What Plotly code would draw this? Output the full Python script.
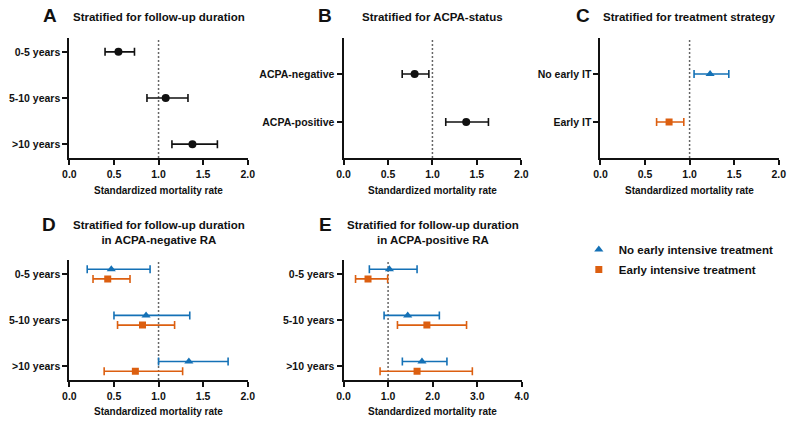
import numpy as np
import plotly.graph_objects as go

# ---------------- data ----------------
followup_labels = ["0-5 years", "5-10 years", ">10 years"]
acpa_labels = ["ACPA-negative", "ACPA-positive"]
treat_labels = ["No early IT", "Early IT"]

# Panel A: stratified for follow-up duration
a_smr = [0.55, 1.08, 1.38]
a_lo = [0.40, 0.87, 1.15]
a_hi = [0.73, 1.33, 1.66]

# Panel B: stratified for ACPA status
b_smr = [0.80, 1.38]
b_lo = [0.66, 1.15]
b_hi = [0.96, 1.63]

# Panel C: stratified for treatment strategy (No early IT, Early IT)
c_smr = [1.23, 0.77]
c_lo = [1.05, 0.63]
c_hi = [1.44, 0.935]

# Panel D: follow-up duration in ACPA-negative RA
d_noit_smr = [0.47, 0.86, 1.34]
d_noit_lo = [0.20, 0.50, 1.00]
d_noit_hi = [0.905, 1.35, 1.78]
d_it_smr = [0.43, 0.82, 0.74]
d_it_lo = [0.265, 0.54, 0.39]
d_it_hi = [0.68, 1.18, 1.27]

# Panel E: follow-up duration in ACPA-positive RA
e_noit_smr = [1.03, 1.44, 1.76]
e_noit_lo = [0.58, 0.91, 1.32]
e_noit_hi = [1.65, 2.15, 2.32]
e_it_smr = [0.55, 1.87, 1.65]
e_it_lo = [0.27, 1.21, 0.82]
e_it_hi = [0.99, 2.76, 2.89]

legend_names = ["No early intensive treatment", "Early intensive treatment"]

# ---------------- style ----------------
W, H = 800, 424
BLUE = "#1471b6"
ORANGE = "#dc5f10"
BLACK = "#111111"
FONT = "Liberation Sans, Arial, sans-serif"

def px_x(p):
    return p / W

def px_y(p):
    return 1 - p / H

fig = go.Figure()

def err(smr, lo, hi):
    s, l, h = np.array(smr), np.array(lo), np.array(hi)
    return (h - s).tolist(), (s - l).tolist()

def add_series(xaxis, yaxis, smr, lo, hi, ypos, color, symbol, size):
    plus, minus = err(smr, lo, hi)
    fig.add_trace(go.Scatter(
        x=smr, y=ypos, mode="markers", xaxis=xaxis, yaxis=yaxis,
        marker=dict(color=color, symbol=symbol, size=size, line=dict(width=0)),
        error_x=dict(type="data", symmetric=False, array=plus, arrayminus=minus,
                     color=color, thickness=1.6, width=4),
        showlegend=False, hoverinfo="x+y"))

idx3 = np.arange(3)
idx2 = np.arange(2)
off_blue, off_orange = -0.10, 0.11

# A
add_series("x", "y", a_smr, a_lo, a_hi, idx3, BLACK, "circle", 8)
# B
add_series("x2", "y2", b_smr, b_lo, b_hi, idx2, BLACK, "circle", 8)
# C
add_series("x3", "y3", [c_smr[0]], [c_lo[0]], [c_hi[0]], [0], BLUE, "triangle-up", 8)
add_series("x3", "y3", [c_smr[1]], [c_lo[1]], [c_hi[1]], [1], ORANGE, "square", 7)
# D
add_series("x4", "y4", d_noit_smr, d_noit_lo, d_noit_hi, idx3 + off_blue, BLUE, "triangle-up", 8)
add_series("x4", "y4", d_it_smr, d_it_lo, d_it_hi, idx3 + off_orange, ORANGE, "square", 7)
# E
add_series("x5", "y5", e_noit_smr, e_noit_lo, e_noit_hi, idx3 + off_blue, BLUE, "triangle-up", 8)
add_series("x5", "y5", e_it_smr, e_it_lo, e_it_hi, idx3 + off_orange, ORANGE, "square", 7)

# legend-only traces
fig.add_trace(go.Scatter(x=[None], y=[None], mode="markers", name=legend_names[0],
                         legendgroup="g1",
                         marker=dict(color=BLUE, symbol="triangle-up", size=8), showlegend=True))
fig.add_trace(go.Scatter(x=[None], y=[None], mode="markers", name=legend_names[1],
                         legendgroup="g2",
                         marker=dict(color=ORANGE, symbol="square", size=7), showlegend=True))

# ---------------- axes ----------------
tickfont = dict(family=FONT, size=10.5, color=BLACK, weight="bold")

def xaxis_cfg(x0, x1, y_anchor, xmax, dtick):
    return dict(domain=[px_x(x0), px_x(x1)], anchor=y_anchor, range=[0, xmax],
                tickvals=list(np.arange(0, xmax + 1e-9, dtick)), tickformat=".1f",
                showline=True, linewidth=2, linecolor=BLACK, ticks="outside",
                ticklen=5, tickwidth=2, tickcolor=BLACK, showgrid=False, zeroline=False,
                tickfont=tickfont, fixedrange=True)

def yaxis_cfg(y0, y1, x_anchor, labels, rng):
    return dict(domain=[px_y(y1), px_y(y0)], anchor=x_anchor, range=rng,
                tickvals=list(range(len(labels))), ticktext=labels,
                showline=True, linewidth=2, linecolor=BLACK, ticks="outside",
                ticklen=5, tickwidth=2, tickcolor=BLACK, showgrid=False, zeroline=False,
                tickfont=tickfont, fixedrange=True)

top_y0, top_y1 = 38, 158
bot_y0, bot_y1 = 260, 380
panels = {
    "A": (63.5, 245, top_y0, top_y1),
    "B": (342.5, 523.5, top_y0, top_y1),
    "C": (604, 785.5, top_y0, top_y1),
    "D": (63.5, 245, bot_y0, bot_y1),
    "E": (342.5, 524, bot_y0, bot_y1),
}

fig.update_layout(
    xaxis=xaxis_cfg(63.5, 245, "y", 2, 0.5),
    yaxis=yaxis_cfg(top_y0, top_y1, "x", followup_labels, [2.3, -0.3]),
    xaxis2=xaxis_cfg(342.5, 523.5, "y2", 2, 0.5),
    yaxis2=yaxis_cfg(top_y0, top_y1, "x2", acpa_labels, [1.75, -0.75]),
    xaxis3=xaxis_cfg(604, 785.5, "y3", 2, 0.5),
    yaxis3=yaxis_cfg(top_y0, top_y1, "x3", treat_labels, [1.75, -0.75]),
    xaxis4=xaxis_cfg(63.5, 245, "y4", 2, 0.5),
    yaxis4=yaxis_cfg(bot_y0, bot_y1, "x4", followup_labels, [2.3, -0.3]),
    xaxis5=xaxis_cfg(342.5, 524, "y5", 4, 1),
    yaxis5=yaxis_cfg(bot_y0, bot_y1, "x5", followup_labels, [2.3, -0.3]),
)

# reference lines at SMR = 1
shapes = []
for xr, yr in [("x", "y"), ("x2", "y2"), ("x3", "y3"), ("x4", "y4"), ("x5", "y5")]:
    shapes.append(dict(type="line", xref=xr, yref=yr + " domain", x0=1, x1=1, y0=0, y1=1,
                       line=dict(color="#666666", width=1.5, dash="2px,2px"), layer="below"))

# annotations: panel letters, titles, axis titles
ann = []
titles = {
    "A": "Stratified for follow-up duration",
    "B": "Stratified for ACPA-status",
    "C": "Stratified for treatment strategy",
    "D": "Stratified for follow-up duration<br>in ACPA-negative RA",
    "E": "Stratified for follow-up duration<br>in ACPA-positive RA",
}
letter_pos = {"A": (44, 16), "B": (324, 16), "C": (586, 16), "D": (43, 224), "E": (324, 224)}
for k, (x0, x1, y0, y1) in panels.items():
    cx = (x0 + x1) / 2
    lx, ly = letter_pos[k]
    ann.append(dict(text=k, x=px_x(lx), y=px_y(ly), xref="paper", yref="paper",
                    xanchor="center", yanchor="middle", showarrow=False,
                    font=dict(family=FONT, size=19, color=BLACK, weight="bold")))
    ty = 17.5 if k in "ABC" else 232.5
    ann.append(dict(text=titles[k], x=px_x(cx), y=px_y(ty), xref="paper", yref="paper",
                    xanchor="center", yanchor="middle", showarrow=False,
                    font=dict(family=FONT, size=11.5, color=BLACK, weight="bold")))
    ay = 190 if k in "ABC" else 411.5
    ann.append(dict(text="Standardized mortality rate", x=px_x(cx), y=px_y(ay),
                    xref="paper", yref="paper", xanchor="center", yanchor="middle",
                    showarrow=False,
                    font=dict(family=FONT, size=10, color=BLACK, weight="bold")))

fig.update_layout(
    width=W, height=H, margin=dict(l=0, r=0, t=0, b=0),
    paper_bgcolor="white", plot_bgcolor="white",
    font=dict(family=FONT, color=BLACK),
    shapes=shapes, annotations=ann,
    legend=dict(x=px_x(582), y=px_y(235), xanchor="left", yanchor="top",
                bgcolor="rgba(0,0,0,0)", tracegroupgap=1,
                font=dict(family=FONT, size=11.5, color=BLACK, weight="bold")),
)

fig.write_html("out.html", config={"displayModeBar": False},
               post_script="document.body.style.margin='0';")
